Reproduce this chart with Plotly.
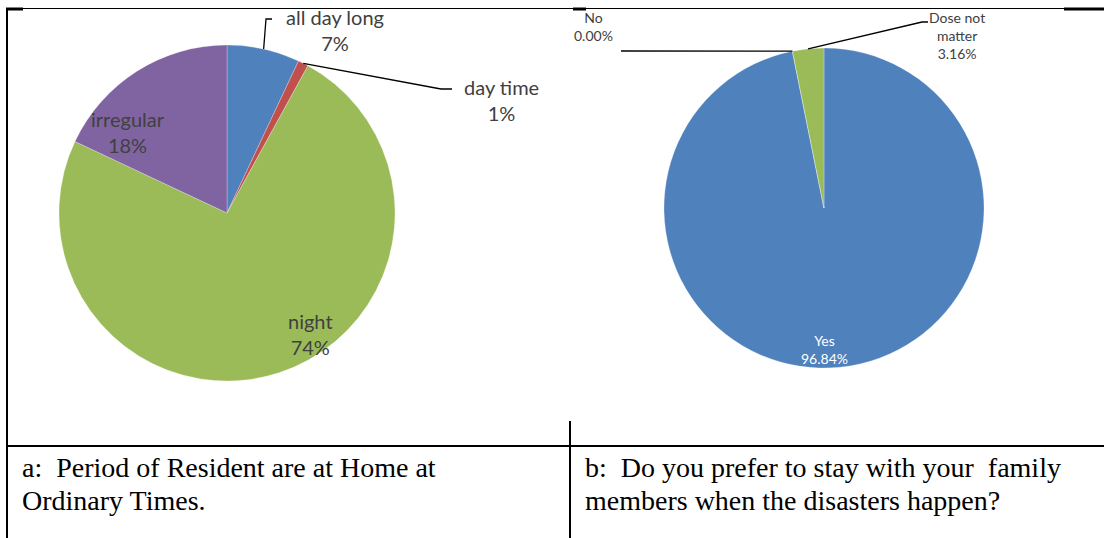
import math
import plotly.graph_objects as go

W, H = 1104, 538

# ---- data ----
a_labels = ["all day long", "day time", "night", "irregular"]
a_values = [7, 1, 74, 18]
a_colors = ["#4F81BD", "#C0504D", "#9BBB59", "#8064A2"]

b_labels = ["Yes", "No", "Dose not<br>matter"]
b_names = ["Yes", "No", "Dose not matter"]
b_values = [96.84, 0.00, 3.16]
b_colors = ["#4F81BD", "#C0504D", "#9BBB59"]

caption_a = ["a:\u00a0 Period of Resident are at Home at", "Ordinary Times."]
caption_b = ["b:\u00a0 Do you prefer to stay with your\u00a0 family",
             "members when the disasters happen?"]

# ---- layout geometry (pixels) ----
A_CX, A_CY, A_R = 227, 213, 168
B_CX, B_CY, B_R = 824, 208, 160


def px(x):
    return x / W


def py(y):
    return 1 - y / H


def domain(cx, cy, r):
    return dict(x=[px(cx - r), px(cx + r)], y=[py(cy + r), py(cy - r)])


def edge_point(cx, cy, r, values, idx, where=0.5):
    total = sum(values)
    frac = (sum(values[:idx]) + values[idx] * where) / total
    ang = 2 * math.pi * frac
    return cx + r * math.sin(ang), cy - r * math.cos(ang)


fig = go.Figure()
fig.add_trace(go.Pie(
    labels=a_labels, values=a_values, sort=False, direction="clockwise", rotation=0,
    marker=dict(colors=a_colors, line=dict(color="rgba(255,255,255,0.5)", width=0.5)),
    textinfo="none", hoverinfo="label+percent", showlegend=False,
    domain=domain(A_CX, A_CY, A_R),
))
fig.add_trace(go.Pie(
    labels=b_names, values=b_values, sort=False, direction="clockwise", rotation=0,
    marker=dict(colors=b_colors, line=dict(color="rgba(255,255,255,0.5)", width=0.5)),
    textinfo="none", hoverinfo="label+percent", showlegend=False,
    domain=domain(B_CX, B_CY, B_R),
))

LBL_FONT = "Lato, 'Open Sans', sans-serif"
anns = []


def add_text(x, y, text, size, color="#404040", family=LBL_FONT, xanchor="center"):
    anns.append(dict(x=px(x), y=py(y), xref="paper", yref="paper", text=text,
                     showarrow=False, xanchor=xanchor, yanchor="middle",
                     font=dict(family=family, size=size, color=color)))


# left chart labels (label + percentage, two lines)
LS = 20
a_pos = [(335, 30), (501, 100), (310, 334), (128, 132)]
for lab, val, (x, y) in zip(a_labels, a_values, a_pos):
    add_text(x, y, f"{lab}<br>{val}%", LS)

# right chart labels
RS = 14
b_pos = [(824, 349), (594, 26), (957, 35)]
b_txtcol = ["#ffffff", "#404040", "#404040"]
for lab, val, (x, y), c in zip(b_labels, b_values, b_pos, b_txtcol):
    add_text(x, y, f"{lab}<br>{val:.2f}%", RS, color=c)

# captions
CAP_FONT = "'Liberation Serif', 'Times New Roman', serif"
CS = 28
add_text(20, 467, caption_a[0], CS, color="#000000", family=CAP_FONT, xanchor="left")
add_text(20, 501, caption_a[1], CS, color="#000000", family=CAP_FONT, xanchor="left")
add_text(583, 467, caption_b[0], CS, color="#000000", family=CAP_FONT, xanchor="left")
add_text(583, 501, caption_b[1], CS, color="#000000", family=CAP_FONT, xanchor="left")

shapes = []


def line(x0, y0, x1, y1, w=1, color="#000000"):
    shapes.append(dict(type="line", xref="paper", yref="paper",
                       x0=px(x0), y0=py(y0), x1=px(x1), y1=py(y1),
                       line=dict(color=color, width=w)))


def path(points, w=1.3, color="#000000"):
    d = "M " + " L ".join(f"{px(x)},{py(y)}" for x, y in points)
    shapes.append(dict(type="path", xref="paper", yref="paper", path=d,
                       line=dict(color=color, width=w)))


# leader lines, anchored at slice edges computed from the data
p = edge_point(A_CX, A_CY, A_R, a_values, 0)
path([p, (266, 19), (272, 19)])
p = edge_point(A_CX, A_CY, A_R, a_values, 1)
path([p, (441, 89), (452, 89)])
p = edge_point(B_CX, B_CY, B_R, b_values, 1)
path([p, (621, 51)])
p = edge_point(B_CX, B_CY, B_R, b_values, 2)
path([p, (922, 22), (928, 22)])

# table borders
line(6, 8.5, 1104, 8.5, 1)
line(6, 9, 23, 9, 3)
line(573, 9, 586, 9, 3)
line(1064, 9, 1104, 9, 3)
line(7, 8, 7, 538, 2)
line(7, 446, 1104, 446, 2)
line(570, 421, 570, 538, 2)

fig.update_layout(
    width=W, height=H, margin=dict(l=0, r=0, t=0, b=0),
    paper_bgcolor="#ffffff", plot_bgcolor="#ffffff",
    annotations=anns, shapes=shapes, showlegend=False,
)
fig.write_html(
    "out.html",
    config={"displayModeBar": False},
    post_script="document.body.style.margin='0';document.body.style.overflow='hidden';",
)
